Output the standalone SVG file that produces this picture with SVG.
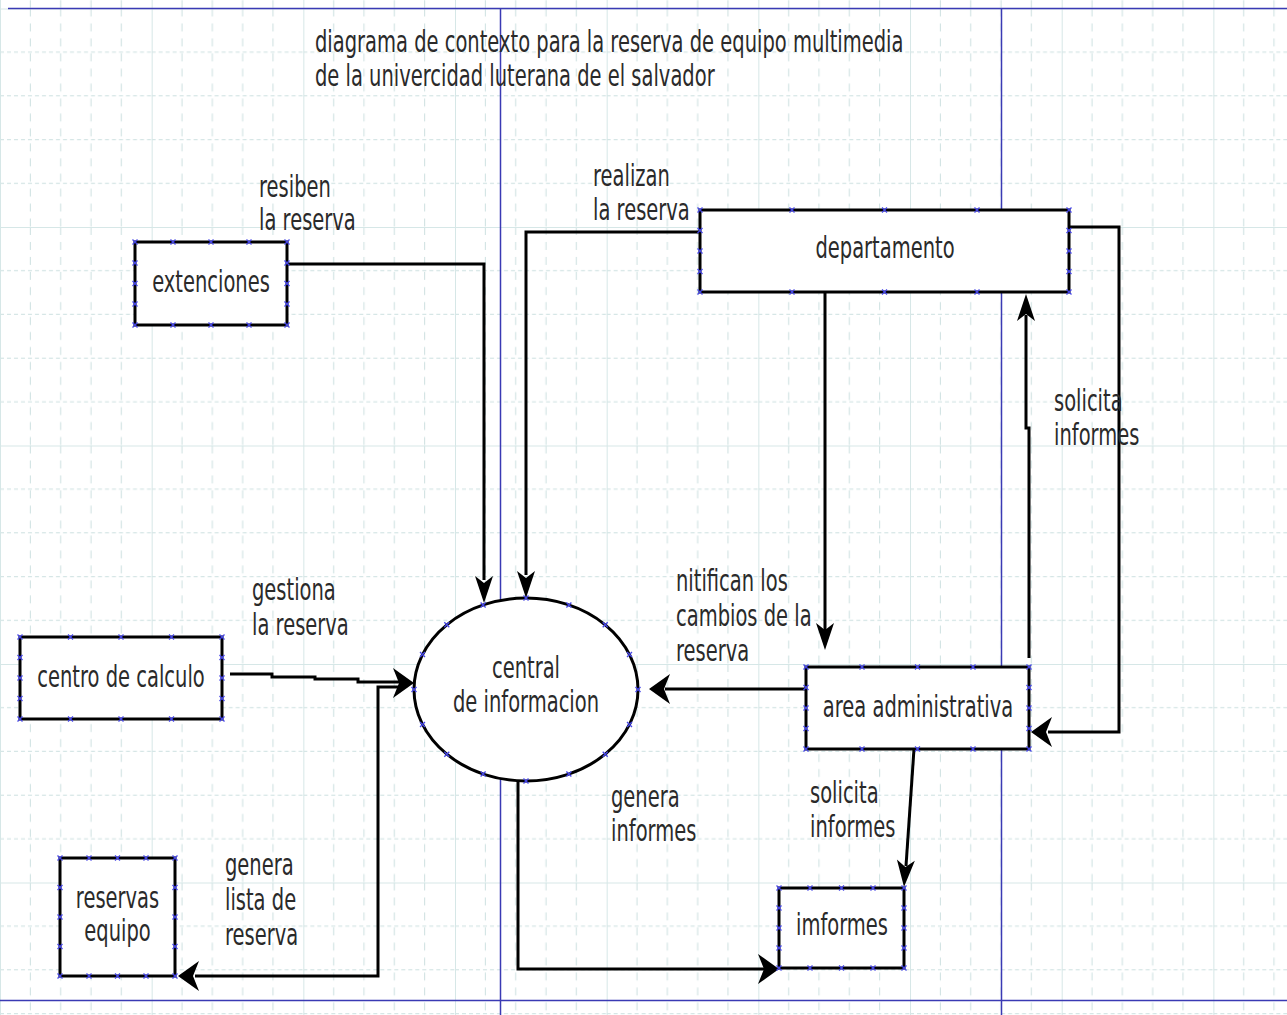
<svg xmlns="http://www.w3.org/2000/svg" xmlns:xlink="http://www.w3.org/1999/xlink" width="1287" height="1015" viewBox="0 0 1287 1015">
<style>
.t{font-family:"DejaVu Sans","Liberation Sans",sans-serif;font-size:19.5px;fill:#2a2a2a}
.c{text-anchor:middle}
.n{fill:#fff;stroke:#000;stroke-width:3}
.e{fill:none;stroke:#000;stroke-width:3;stroke-linejoin:miter}
.pg{stroke:#3a3ab4;stroke-width:1.5;fill:none}
</style>
<defs>
<pattern id="grid" x="0" y="8.5" width="151.67" height="218.5" patternUnits="userSpaceOnUse">
<g stroke="#cce0e0" stroke-width="1" fill="none">
<path d="M30.33,0V218.5M60.67,0V218.5M91,0V218.5M121.33,0V218.5" stroke-dasharray="8 7"/>
<path d="M0,43.7H151.67M0,87.4H151.67M0,131.1H151.67M0,174.8H151.67" stroke-dasharray="4 3"/>
</g>
<path d="M0.5,0V218.5M0,0.5H151.67" stroke="#d6e7e7" stroke-width="1" fill="none"/>
</pattern>
<path id="m" d="M-2.5,-2.5L2.5,2.5M-2.5,2.5L2.5,-2.5" stroke="#4646e6" stroke-width="1.3" fill="none"/>
<path id="aD" d="M0,0L-9,-27L0,-20L9,-27Z" fill="#000"/>
<path id="aU" d="M0,0L-9,27L0,20L9,27Z" fill="#000"/>
<path id="aL" d="M0,0L21,-15L15,0L21,15Z" fill="#000"/>
<path id="aR" d="M0,0L-21,-15L-15,0L-21,15Z" fill="#000"/>
</defs>
<rect width="1287" height="1015" fill="#fff"/>
<rect width="1287" height="1015" fill="url(#grid)"/>
<g id="page-lines">
<path class="pg" d="M8,8.5H1287M0,1000.5H1287M500.5,8.5V1015M1001.5,8.5V1015"/>
</g>
<g id="title">
<text class="t" transform="translate(315 52) scale(1 1.5)">diagrama de contexto para la reserva de equipo multimedia</text>
<text class="t" transform="translate(315 86) scale(1 1.5)">de la univercidad luterana de el salvador</text>
</g>
<g id="connectors">
<path class="e" d="M287,264H484V580"/>
<use href="#aD" x="484" y="603"/>
<path class="e" d="M700,232H526V575"/>
<use href="#aD" x="526" y="598"/>
<path class="e" d="M825,292V630"/>
<use href="#aD" x="825" y="650"/>
<path class="e" d="M1029,658V428H1026V315"/>
<use href="#aU" x="1026" y="294"/>
<path class="e" d="M1069,227H1119V732H1048"/>
<use href="#aL" x="1031" y="732"/>
<path class="e" d="M806,689H665"/>
<use href="#aL" x="649" y="689"/>
<path class="e" d="M230,674L272,674L272,677L315,677L315,679L358,679L358,682L400,682"/>
<use href="#aR" x="414" y="683"/>
<path class="e" d="M405,687H378V976H195"/>
<use href="#aL" x="178" y="976"/>
<path class="e" d="M518,781V969H765"/>
<use href="#aR" x="779" y="969"/>
<path class="e" d="M914,749L906,866"/>
<use href="#aD" x="904" y="887" transform="rotate(4 904 887)"/>
</g>
<g id="labels">
<text class="t" transform="translate(259 197) scale(1 1.5)">resiben</text>
<text class="t" transform="translate(259 230) scale(1 1.5)">la reserva</text>
<text class="t" transform="translate(593 186) scale(1 1.5)">realizan</text>
<text class="t" transform="translate(593 220) scale(1 1.5)">la reserva</text>
<text class="t" transform="translate(1054 411) scale(1 1.5)">solicita</text>
<text class="t" transform="translate(1054 445) scale(1 1.5)">informes</text>
<text class="t" transform="translate(676 591) scale(1 1.5)">nitifican los</text>
<text class="t" transform="translate(676 626) scale(1 1.5)">cambios de la</text>
<text class="t" transform="translate(676 661) scale(1 1.5)">reserva</text>
<text class="t" transform="translate(252 600) scale(1 1.5)">gestiona</text>
<text class="t" transform="translate(252 635) scale(1 1.5)">la reserva</text>
<text class="t" transform="translate(611 807) scale(1 1.5)">genera</text>
<text class="t" transform="translate(611 841) scale(1 1.5)">informes</text>
<text class="t" transform="translate(810 803) scale(1 1.5)">solicita</text>
<text class="t" transform="translate(810 837) scale(1 1.5)">informes</text>
<text class="t" transform="translate(225 875) scale(1 1.5)">genera</text>
<text class="t" transform="translate(225 910) scale(1 1.5)">lista de</text>
<text class="t" transform="translate(225 945) scale(1 1.5)">reserva</text>
</g>
<g id="extenciones">
<rect class="n" x="135" y="242" width="152" height="83"/>
<text class="t c" transform="translate(211 292) scale(1 1.5)">extenciones</text>
<use href="#m" x="135" y="242"/><use href="#m" x="173" y="242"/><use href="#m" x="211" y="242"/><use href="#m" x="249" y="242"/><use href="#m" x="287" y="242"/>
<use href="#m" x="135" y="325"/><use href="#m" x="173" y="325"/><use href="#m" x="211" y="325"/><use href="#m" x="249" y="325"/><use href="#m" x="287" y="325"/>
<use href="#m" x="135" y="263"/><use href="#m" x="135" y="283.5"/><use href="#m" x="135" y="304"/>
<use href="#m" x="287" y="263"/><use href="#m" x="287" y="283.5"/><use href="#m" x="287" y="304"/>
</g>
<g id="departamento">
<rect class="n" x="700" y="210" width="369" height="82"/>
<text class="t c" transform="translate(885 258) scale(1 1.5)">departamento</text>
<use href="#m" x="700" y="210"/><use href="#m" x="792" y="210"/><use href="#m" x="884.5" y="210"/><use href="#m" x="977" y="210"/><use href="#m" x="1069" y="210"/>
<use href="#m" x="700" y="292"/><use href="#m" x="792" y="292"/><use href="#m" x="884.5" y="292"/><use href="#m" x="977" y="292"/><use href="#m" x="1069" y="292"/>
<use href="#m" x="700" y="230.5"/><use href="#m" x="700" y="251"/><use href="#m" x="700" y="271.5"/>
<use href="#m" x="1069" y="230.5"/><use href="#m" x="1069" y="251"/><use href="#m" x="1069" y="271.5"/>
</g>
<g id="area-administrativa">
<rect class="n" x="806" y="667" width="223" height="82"/>
<text class="t c" transform="translate(918 717) scale(1 1.5)">area administrativa</text>
<use href="#m" x="806" y="667"/><use href="#m" x="862" y="667"/><use href="#m" x="917.5" y="667"/><use href="#m" x="973" y="667"/><use href="#m" x="1029" y="667"/>
<use href="#m" x="806" y="749"/><use href="#m" x="862" y="749"/><use href="#m" x="917.5" y="749"/><use href="#m" x="973" y="749"/><use href="#m" x="1029" y="749"/>
<use href="#m" x="806" y="687.5"/><use href="#m" x="806" y="708"/><use href="#m" x="806" y="728.5"/>
<use href="#m" x="1029" y="687.5"/><use href="#m" x="1029" y="708"/><use href="#m" x="1029" y="728.5"/>
</g>
<g id="imformes">
<rect class="n" x="779" y="888" width="125" height="80"/>
<text class="t c" transform="translate(842 935) scale(1 1.5)">imformes</text>
<use href="#m" x="779" y="888"/><use href="#m" x="810" y="888"/><use href="#m" x="841.5" y="888"/><use href="#m" x="873" y="888"/><use href="#m" x="904" y="888"/>
<use href="#m" x="779" y="968"/><use href="#m" x="810" y="968"/><use href="#m" x="841.5" y="968"/><use href="#m" x="873" y="968"/><use href="#m" x="904" y="968"/>
<use href="#m" x="779" y="908"/><use href="#m" x="779" y="928"/><use href="#m" x="779" y="948"/>
<use href="#m" x="904" y="908"/><use href="#m" x="904" y="928"/><use href="#m" x="904" y="948"/>
</g>
<g id="reservas-equipo">
<rect class="n" x="60" y="858" width="115" height="118"/>
<text class="t c" transform="translate(117.5 908) scale(1 1.5)">reservas</text>
<text class="t c" transform="translate(117.5 941) scale(1 1.5)">equipo</text>
<use href="#m" x="60" y="858"/><use href="#m" x="89" y="858"/><use href="#m" x="117.5" y="858"/><use href="#m" x="146" y="858"/><use href="#m" x="175" y="858"/>
<use href="#m" x="60" y="976"/><use href="#m" x="89" y="976"/><use href="#m" x="117.5" y="976"/><use href="#m" x="146" y="976"/><use href="#m" x="175" y="976"/>
<use href="#m" x="60" y="887.5"/><use href="#m" x="60" y="917"/><use href="#m" x="60" y="946.5"/>
<use href="#m" x="175" y="887.5"/><use href="#m" x="175" y="917"/><use href="#m" x="175" y="946.5"/>
</g>
<g id="centro-de-calculo">
<rect class="n" x="20" y="637" width="202" height="82"/>
<text class="t c" transform="translate(121 687) scale(1 1.5)">centro de calculo</text>
<use href="#m" x="20" y="637"/><use href="#m" x="70.5" y="637"/><use href="#m" x="121" y="637"/><use href="#m" x="171.5" y="637"/><use href="#m" x="222" y="637"/>
<use href="#m" x="20" y="719"/><use href="#m" x="70.5" y="719"/><use href="#m" x="121" y="719"/><use href="#m" x="171.5" y="719"/><use href="#m" x="222" y="719"/>
<use href="#m" x="20" y="657.5"/><use href="#m" x="20" y="678"/><use href="#m" x="20" y="698.5"/>
<use href="#m" x="222" y="657.5"/><use href="#m" x="222" y="678"/><use href="#m" x="222" y="698.5"/>
</g>
<g id="central-de-informacion">
<ellipse class="n" cx="526" cy="689.5" rx="112" ry="91.5"/>
<text class="t c" transform="translate(526 678) scale(1 1.5)">central</text>
<text class="t c" transform="translate(526 712) scale(1 1.5)">de informacion</text>
<use href="#m" x="638" y="689.5"/><use href="#m" x="629.5" y="724.5"/><use href="#m" x="605.2" y="754.2"/><use href="#m" x="568.9" y="774"/>
<use href="#m" x="526" y="781"/><use href="#m" x="483.1" y="774"/><use href="#m" x="446.8" y="754.2"/><use href="#m" x="422.5" y="724.5"/>
<use href="#m" x="414" y="689.5"/><use href="#m" x="422.5" y="654.5"/><use href="#m" x="446.8" y="624.8"/><use href="#m" x="483.1" y="605"/>
<use href="#m" x="526" y="598"/><use href="#m" x="568.9" y="605"/><use href="#m" x="605.2" y="624.8"/><use href="#m" x="629.5" y="654.5"/>
</g>
</svg>
